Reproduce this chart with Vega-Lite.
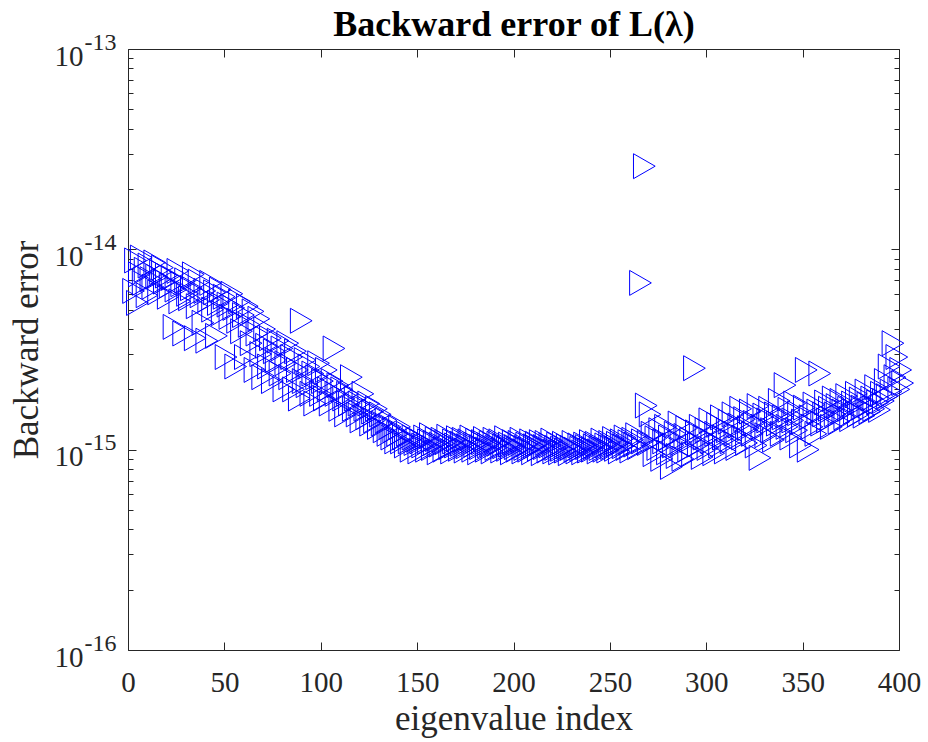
{
  "$schema": "https://vega.github.io/schema/vega-lite/v6.json",
  "width": 771,
  "height": 601,
  "autosize": "none",
  "padding": {"left": 128, "top": 49, "right": 29, "bottom": 92},
  "background": "white",
  "config": {"view": {"stroke": "#262626", "strokeWidth": 1}, "font": "Liberation Serif"},
  "data": {"values": [
{"i":1,"e":6.2e-15},{"i":2,"e":8.8e-15},{"i":3,"e":5.4e-15},{"i":4,"e":7.5e-15},{"i":5,"e":9.1e-15},{"i":6,"e":6.8e-15},{"i":7,"e":7.9e-15},{"i":8,"e":5.9e-15},{"i":9,"e":8.3e-15},{"i":10,"e":7.1e-15},
{"i":11,"e":6.5e-15},{"i":12,"e":8.6e-15},{"i":13,"e":7.3e-15},{"i":14,"e":6.1e-15},{"i":15,"e":7.7e-15},{"i":16,"e":8.1e-15},{"i":17,"e":6.9e-15},{"i":18,"e":7.4e-15},{"i":19,"e":5.8e-15},{"i":20,"e":6.6e-15},
{"i":21,"e":7.2e-15},{"i":22,"e":4.1e-15},{"i":23,"e":6.3e-15},{"i":24,"e":7.8e-15},{"i":25,"e":5.5e-15},{"i":26,"e":6.7e-15},{"i":27,"e":3.8e-15},{"i":28,"e":7.0e-15},{"i":29,"e":6.0e-15},{"i":30,"e":5.7e-15},
{"i":31,"e":6.4e-15},{"i":32,"e":7.5e-15},{"i":33,"e":3.6e-15},{"i":34,"e":5.2e-15},{"i":35,"e":6.9e-15},{"i":36,"e":5.9e-15},{"i":37,"e":4.3e-15},{"i":38,"e":6.2e-15},{"i":39,"e":3.5e-15},{"i":40,"e":5.6e-15},
{"i":41,"e":6.8e-15},{"i":42,"e":5.0e-15},{"i":43,"e":6.1e-15},{"i":44,"e":3.7e-15},{"i":45,"e":5.4e-15},{"i":46,"e":6.3e-15},{"i":47,"e":4.8e-15},{"i":48,"e":5.8e-15},{"i":49,"e":2.9e-15},{"i":50,"e":5.3e-15},
{"i":51,"e":4.6e-15},{"i":52,"e":6.0e-15},{"i":53,"e":5.1e-15},{"i":54,"e":2.6e-15},{"i":55,"e":4.4e-15},{"i":56,"e":5.5e-15},{"i":57,"e":3.9e-15},{"i":58,"e":4.7e-15},{"i":59,"e":2.9e-15},{"i":60,"e":5.2e-15},
{"i":61,"e":4.2e-15},{"i":62,"e":3.4e-15},{"i":63,"e":4.9e-15},{"i":64,"e":2.5e-15},{"i":65,"e":3.8e-15},{"i":66,"e":4.5e-15},{"i":67,"e":3.0e-15},{"i":68,"e":2.3e-15},{"i":69,"e":4.0e-15},{"i":70,"e":3.3e-15},
{"i":71,"e":2.6e-15},{"i":72,"e":3.6e-15},{"i":73,"e":2.2e-15},{"i":74,"e":3.1e-15},{"i":75,"e":2.8e-15},{"i":76,"e":3.5e-15},{"i":77,"e":2.4e-15},{"i":78,"e":3.2e-15},{"i":79,"e":2.0e-15},{"i":80,"e":2.7e-15},
{"i":81,"e":3.4e-15},{"i":82,"e":2.3e-15},{"i":83,"e":2.9e-15},{"i":84,"e":2.0e-15},{"i":85,"e":3.1e-15},{"i":86,"e":2.5e-15},{"i":87,"e":1.8e-15},{"i":88,"e":4.4e-15},{"i":89,"e":2.2e-15},{"i":90,"e":2.8e-15},
{"i":91,"e":2.1e-15},{"i":92,"e":2.6e-15},{"i":93,"e":1.9e-15},{"i":94,"e":2.4e-15},{"i":95,"e":1.7e-15},{"i":96,"e":2.3e-15},{"i":97,"e":2.7e-15},{"i":98,"e":1.9e-15},{"i":99,"e":2.2e-15},{"i":100,"e":1.8e-15},
{"i":101,"e":2.5e-15},{"i":102,"e":2.0e-15},{"i":103,"e":1.7e-15},{"i":104,"e":2.2e-15},{"i":105,"e":3.2e-15},{"i":106,"e":1.9e-15},{"i":107,"e":2.1e-15},{"i":108,"e":1.6e-15},{"i":109,"e":2.0e-15},{"i":110,"e":1.8e-15},
{"i":111,"e":1.5e-15},{"i":112,"e":1.9e-15},{"i":113,"e":1.7e-15},{"i":114,"e":2.3e-15},{"i":115,"e":1.6e-15},{"i":116,"e":1.8e-15},{"i":117,"e":1.5e-15},{"i":118,"e":1.7e-15},{"i":119,"e":1.4e-15},{"i":120,"e":1.9e-15},
{"i":121,"e":1.6e-15},{"i":122,"e":1.45e-15},{"i":123,"e":1.7e-15},{"i":124,"e":1.35e-15},{"i":125,"e":1.55e-15},{"i":126,"e":1.4e-15},{"i":127,"e":1.6e-15},{"i":128,"e":1.3e-15},{"i":129,"e":1.5e-15},{"i":130,"e":1.35e-15},
{"i":131,"e":1.25e-15},{"i":132,"e":1.4e-15},{"i":133,"e":1.2e-15},{"i":134,"e":1.3e-15},{"i":135,"e":1.15e-15},{"i":136,"e":1.25e-15},{"i":137,"e":1.1e-15},{"i":138,"e":1.2e-15},{"i":139,"e":1.3e-15},{"i":140,"e":1.1e-15},
{"i":141,"e":1.15e-15},{"i":142,"e":1.05e-15},{"i":143,"e":1.2e-15},{"i":144,"e":1.1e-15},{"i":145,"e":1.0e-15},{"i":146,"e":1.15e-15},{"i":147,"e":1.08e-15},{"i":148,"e":1.12e-15},{"i":149,"e":0.98e-15},{"i":150,"e":1.1e-15},
{"i":151,"e":1.05e-15},{"i":152,"e":1.15e-15},{"i":153,"e":1.0e-15},{"i":154,"e":1.1e-15},{"i":155,"e":1.18e-15},{"i":156,"e":1.02e-15},{"i":157,"e":1.08e-15},{"i":158,"e":1.13e-15},{"i":159,"e":0.97e-15},{"i":160,"e":1.06e-15},
{"i":161,"e":1.12e-15},{"i":162,"e":1.0e-15},{"i":163,"e":1.09e-15},{"i":164,"e":1.16e-15},{"i":165,"e":1.03e-15},{"i":166,"e":0.98e-15},{"i":167,"e":1.1e-15},{"i":168,"e":1.05e-15},{"i":169,"e":1.14e-15},{"i":170,"e":1.01e-15},
{"i":171,"e":1.07e-15},{"i":172,"e":1.12e-15},{"i":173,"e":0.99e-15},{"i":174,"e":1.04e-15},{"i":175,"e":1.1e-15},{"i":176,"e":1.15e-15},{"i":177,"e":1.0e-15},{"i":178,"e":1.06e-15},{"i":179,"e":1.11e-15},{"i":180,"e":0.97e-15},
{"i":181,"e":1.03e-15},{"i":182,"e":1.09e-15},{"i":183,"e":1.13e-15},{"i":184,"e":1.0e-15},{"i":185,"e":1.05e-15},{"i":186,"e":1.08e-15},{"i":187,"e":0.98e-15},{"i":188,"e":1.12e-15},{"i":189,"e":1.02e-15},{"i":190,"e":1.07e-15},
{"i":191,"e":1.1e-15},{"i":192,"e":0.99e-15},{"i":193,"e":1.04e-15},{"i":194,"e":1.14e-15},{"i":195,"e":1.01e-15},{"i":196,"e":1.06e-15},{"i":197,"e":0.97e-15},{"i":198,"e":1.09e-15},{"i":199,"e":1.03e-15},{"i":200,"e":1.0e-15},
{"i":201,"e":1.08e-15},{"i":202,"e":1.12e-15},{"i":203,"e":0.98e-15},{"i":204,"e":1.02e-15},{"i":205,"e":1.06e-15},{"i":206,"e":1.0e-15},{"i":207,"e":1.1e-15},{"i":208,"e":0.97e-15},{"i":209,"e":1.04e-15},{"i":210,"e":1.07e-15},
{"i":211,"e":1.01e-15},{"i":212,"e":1.09e-15},{"i":213,"e":0.96e-15},{"i":214,"e":1.03e-15},{"i":215,"e":1.08e-15},{"i":216,"e":0.99e-15},{"i":217,"e":1.05e-15},{"i":218,"e":1.11e-15},{"i":219,"e":0.98e-15},{"i":220,"e":1.02e-15},
{"i":221,"e":1.06e-15},{"i":222,"e":0.97e-15},{"i":223,"e":1.01e-15},{"i":224,"e":1.07e-15},{"i":225,"e":0.99e-15},{"i":226,"e":1.04e-15},{"i":227,"e":0.96e-15},{"i":228,"e":1.02e-15},{"i":229,"e":1.08e-15},{"i":230,"e":1.0e-15},
{"i":231,"e":0.98e-15},{"i":232,"e":1.05e-15},{"i":233,"e":1.01e-15},{"i":234,"e":0.97e-15},{"i":235,"e":1.06e-15},{"i":236,"e":1.03e-15},{"i":237,"e":0.99e-15},{"i":238,"e":1.09e-15},{"i":239,"e":1.0e-15},{"i":240,"e":1.04e-15},
{"i":241,"e":1.07e-15},{"i":242,"e":0.98e-15},{"i":243,"e":1.02e-15},{"i":244,"e":1.11e-15},{"i":245,"e":1.0e-15},{"i":246,"e":1.05e-15},{"i":247,"e":0.99e-15},{"i":248,"e":1.08e-15},{"i":249,"e":1.03e-15},{"i":250,"e":1.13e-15},
{"i":251,"e":1.01e-15},{"i":252,"e":1.07e-15},{"i":253,"e":0.98e-15},{"i":254,"e":1.1e-15},{"i":255,"e":1.04e-15},{"i":256,"e":1.15e-15},{"i":257,"e":1.02e-15},{"i":258,"e":1.09e-15},{"i":259,"e":0.99e-15},{"i":260,"e":1.12e-15},
{"i":261,"e":1.06e-15},{"i":262,"e":1.18e-15},{"i":263,"e":1.03e-15},{"i":264,"e":6.8e-15},{"i":265,"e":1.1e-15},{"i":266,"e":2.6e-14},{"i":267,"e":1.66e-15},{"i":268,"e":1.08e-15},{"i":269,"e":1.5e-15},{"i":270,"e":1.2e-15},
{"i":271,"e":0.95e-15},{"i":272,"e":1.14e-15},{"i":273,"e":1.02e-15},{"i":274,"e":1.25e-15},{"i":275,"e":0.9e-15},{"i":276,"e":1.1e-15},{"i":277,"e":1.3e-15},{"i":278,"e":0.97e-15},{"i":279,"e":1.15e-15},{"i":280,"e":0.82e-15},
{"i":281,"e":1.05e-15},{"i":282,"e":1.2e-15},{"i":283,"e":0.93e-15},{"i":284,"e":1.35e-15},{"i":285,"e":1.08e-15},{"i":286,"e":0.9e-15},{"i":287,"e":1.17e-15},{"i":288,"e":1.28e-15},{"i":289,"e":1.0e-15},{"i":290,"e":1.12e-15},
{"i":291,"e":0.95e-15},{"i":292,"e":2.55e-15},{"i":293,"e":1.22e-15},{"i":294,"e":1.06e-15},{"i":295,"e":1.3e-15},{"i":296,"e":0.92e-15},{"i":297,"e":1.15e-15},{"i":298,"e":1.25e-15},{"i":299,"e":1.02e-15},{"i":300,"e":1.4e-15},
{"i":301,"e":1.1e-15},{"i":302,"e":0.96e-15},{"i":303,"e":1.2e-15},{"i":304,"e":1.33e-15},{"i":305,"e":1.05e-15},{"i":306,"e":1.45e-15},{"i":307,"e":1.15e-15},{"i":308,"e":0.98e-15},{"i":309,"e":1.25e-15},{"i":310,"e":1.38e-15},
{"i":311,"e":1.1e-15},{"i":312,"e":1.5e-15},{"i":313,"e":1.2e-15},{"i":314,"e":1.02e-15},{"i":315,"e":1.32e-15},{"i":316,"e":1.6e-15},{"i":317,"e":1.15e-15},{"i":318,"e":1.42e-15},{"i":319,"e":1.08e-15},{"i":320,"e":1.28e-15},
{"i":321,"e":1.55e-15},{"i":322,"e":1.2e-15},{"i":323,"e":1.36e-15},{"i":324,"e":1.05e-15},{"i":325,"e":1.65e-15},{"i":326,"e":0.91e-15},{"i":327,"e":1.3e-15},{"i":328,"e":1.48e-15},{"i":329,"e":1.18e-15},{"i":330,"e":1.4e-15},
{"i":331,"e":1.6e-15},{"i":332,"e":1.25e-15},{"i":333,"e":1.12e-15},{"i":334,"e":1.5e-15},{"i":335,"e":1.35e-15},{"i":336,"e":1.75e-15},{"i":337,"e":1.2e-15},{"i":338,"e":1.45e-15},{"i":339,"e":2.1e-15},{"i":340,"e":1.3e-15},
{"i":341,"e":1.58e-15},{"i":342,"e":1.15e-15},{"i":343,"e":1.4e-15},{"i":344,"e":1.7e-15},{"i":345,"e":1.25e-15},{"i":346,"e":1.52e-15},{"i":347,"e":1.05e-15},{"i":348,"e":1.38e-15},{"i":349,"e":1.62e-15},{"i":350,"e":2.5e-15},
{"i":351,"e":1.0e-15},{"i":352,"e":1.45e-15},{"i":353,"e":1.3e-15},{"i":354,"e":1.68e-15},{"i":355,"e":1.2e-15},{"i":356,"e":1.55e-15},{"i":357,"e":2.4e-15},{"i":358,"e":1.35e-15},{"i":359,"e":1.5e-15},{"i":360,"e":1.72e-15},
{"i":361,"e":1.4e-15},{"i":362,"e":1.6e-15},{"i":363,"e":1.3e-15},{"i":364,"e":1.8e-15},{"i":365,"e":1.5e-15},{"i":366,"e":1.65e-15},{"i":367,"e":1.38e-15},{"i":368,"e":1.75e-15},{"i":369,"e":1.55e-15},{"i":370,"e":1.45e-15},
{"i":371,"e":1.85e-15},{"i":372,"e":1.6e-15},{"i":373,"e":1.42e-15},{"i":374,"e":1.7e-15},{"i":375,"e":1.55e-15},{"i":376,"e":1.9e-15},{"i":377,"e":1.5e-15},{"i":378,"e":1.78e-15},{"i":379,"e":1.62e-15},{"i":380,"e":1.48e-15},
{"i":381,"e":1.95e-15},{"i":382,"e":1.68e-15},{"i":383,"e":1.55e-15},{"i":384,"e":1.8e-15},{"i":385,"e":1.6e-15},{"i":386,"e":2.05e-15},{"i":387,"e":1.72e-15},{"i":388,"e":1.58e-15},{"i":389,"e":1.9e-15},{"i":390,"e":1.75e-15},
{"i":391,"e":2.2e-15},{"i":392,"e":1.85e-15},{"i":393,"e":2.6e-15},{"i":394,"e":1.95e-15},{"i":395,"e":3.4e-15},{"i":396,"e":2.3e-15},{"i":397,"e":2.9e-15},{"i":398,"e":2.0e-15},{"i":399,"e":2.5e-15},{"i":400,"e":2.15e-15}
  ]},
  "layer": [
    {
      "mark": {"type": "point", "shape": "M-0.667,-1.15L1.333,0L-0.667,1.15Z", "filled": false, "stroke": "#0000ff", "strokeWidth": 1, "size": 471, "opacity": 1},
      "encoding": {
        "x": {"field": "i", "type": "quantitative",
          "scale": {"domain": [0, 400], "nice": false, "zero": false},
          "axis": {"orient": "bottom", "values": [0,50,100,150,200,250,300,350,400], "grid": false, "domain": false,
            "tickSize": -8, "tickColor": "#262626", "tickWidth": 1,
            "labelFont": "Liberation Serif", "labelFontSize": 29, "labelColor": "#262626", "labelBaseline": "alphabetic", "labelPadding": 49, "labelFlush": false,
            "title": "eigenvalue index", "titleFont": "Liberation Serif", "titleFontSize": 35, "titleFontWeight": "normal", "titleColor": "#262626", "titlePadding": 4}},
        "y": {"field": "e", "type": "quantitative",
          "scale": {"type": "log", "domain": [1e-16, 1e-13], "nice": false},
          "axis": {"orient": "left", "grid": false, "domain": false, "labels": false, "title": null,
            "values": [1e-16,2e-16,3e-16,4e-16,5e-16,6e-16,7e-16,8e-16,9e-16,1e-15,2e-15,3e-15,4e-15,5e-15,6e-15,7e-15,8e-15,9e-15,1e-14,2e-14,3e-14,4e-14,5e-14,6e-14,7e-14,8e-14,9e-14,1e-13],
            "tickSize": {"condition": {"test": "abs(log(datum.value)/LN10 - round(log(datum.value)/LN10)) < 0.001", "value": -8}, "value": -5},
            "tickColor": "#262626", "tickWidth": 1}}
      }
    },
    {
      "mark": {"type": "point", "opacity": 0},
      "encoding": {
        "x": {"field": "i", "type": "quantitative",
          "axis": {"orient": "top", "values": [0,50,100,150,200,250,300,350,400], "grid": false, "domain": false, "labels": false,
            "tickSize": -8, "tickColor": "#262626", "tickWidth": 1,
            "title": "Backward error of L(λ)", "titleFont": "Liberation Serif", "titleFontSize": 36, "titleFontWeight": "bold", "titleColor": "black", "titleBaseline": "alphabetic", "titlePadding": 13}},
        "y": {"field": "e", "type": "quantitative",
          "axis": {"orient": "left", "grid": false, "domain": false, "ticks": false,
            "values": [1e-16, 1e-15, 1e-14, 1e-13],
            "labelExpr": "'10'",
            "labelFont": "Liberation Serif", "labelFontSize": 29, "labelColor": "#262626", "labelPadding": 45, "labelFlush": false, "labelBaseline": "alphabetic", "labelOffset": 16,
            "title": "Backward error", "titleFont": "Liberation Serif", "titleFontSize": 35, "titleFontWeight": "normal", "titleColor": "#262626", "titlePadding": 10}}
      }
    },
    {
      "mark": {"type": "point", "opacity": 0},
      "encoding": {
        "x": {"field": "i", "type": "quantitative", "axis": null},
        "y": {"field": "e", "type": "quantitative",
          "axis": {"orient": "left", "grid": false, "domain": false, "ticks": false, "title": null,
            "values": [1e-16, 1e-15, 1e-14, 1e-13],
            "labelExpr": "'-' + format(-round(log(datum.value)/LN10), 'd')",
            "labelFont": "Liberation Serif", "labelFontSize": 24, "labelColor": "#262626", "labelPadding": 12, "labelFlush": false, "labelBaseline": "alphabetic", "labelOffset": 0}}
      }
    },
    {
      "mark": {"type": "point", "opacity": 0},
      "encoding": {
        "x": {"field": "i", "type": "quantitative", "axis": null},
        "y": {"field": "e", "type": "quantitative",
          "axis": {"orient": "right", "grid": false, "domain": false, "labels": false, "title": null,
            "values": [1e-16,2e-16,3e-16,4e-16,5e-16,6e-16,7e-16,8e-16,9e-16,1e-15,2e-15,3e-15,4e-15,5e-15,6e-15,7e-15,8e-15,9e-15,1e-14,2e-14,3e-14,4e-14,5e-14,6e-14,7e-14,8e-14,9e-14,1e-13],
            "tickSize": {"condition": {"test": "abs(log(datum.value)/LN10 - round(log(datum.value)/LN10)) < 0.001", "value": -8}, "value": -5},
            "tickColor": "#262626", "tickWidth": 1}}
      }
    }
  ],
  "resolve": {"axis": {"x": "independent", "y": "independent"}}
}
